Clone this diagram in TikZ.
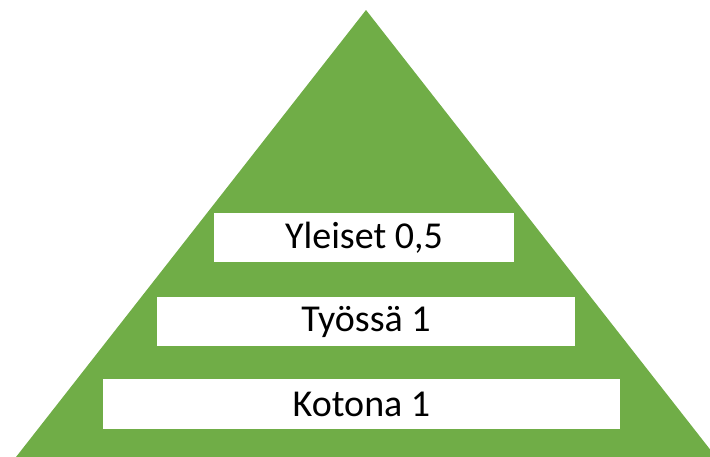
\documentclass[tikz,border=0pt]{standalone}
\usepackage{fontspec}
\setmainfont{Carlito}
\definecolor{pyrgreen}{HTML}{70AD47}
\begin{document}
\begin{tikzpicture}[x=1pt,y=-1pt,
  band/.style={fill=white,draw=none,inner sep=0pt,font=\fontsize{38}{44}\selectfont}]
\useasboundingbox (0,0) rectangle (710,456);
\begin{scope}
\clip (0,0) rectangle (710,456);
\fill[pyrgreen] (366,10) -- (-2,480) -- (734,480) -- cycle;
\end{scope}
\fill[white] (214,213) rectangle (514,262);
\node[band] (yleiset) at (364,237.5) {Yleiset 0,5};
\fill[white] (157,297) rectangle (575,346);
\node[band] (tyossa) at (366,321.5) {Työssä 1};
\fill[white] (103,379) rectangle (620,429);
\node[band] (kotona) at (361.5,404) {Kotona 1};
\end{tikzpicture}
\end{document}
